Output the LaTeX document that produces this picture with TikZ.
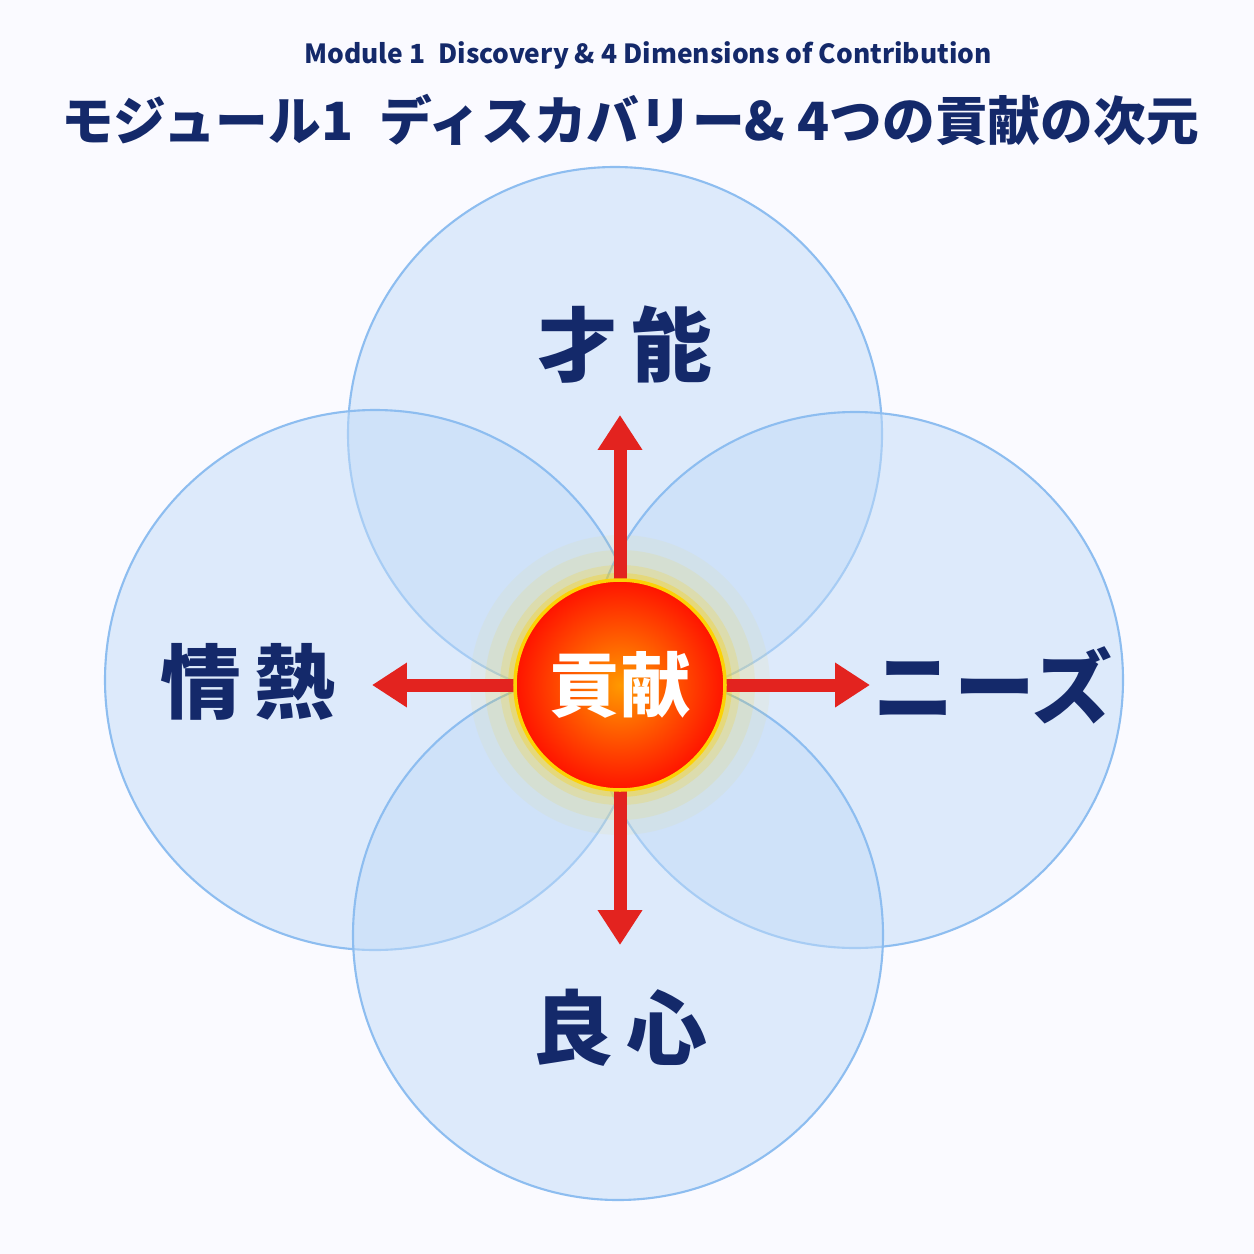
\documentclass[tikz,border=0pt]{standalone}
\usepackage{fontspec}
\setmainfont{Noto Sans CJK JP}
\newcommand\jpbold{\bfseries}
\usetikzlibrary{arrows.meta}
\definecolor{navy}{HTML}{14296A}
\definecolor{ringblue}{HTML}{8DBDF0}
\definecolor{fillblue}{HTML}{C2DCF8}
\definecolor{arrowred}{HTML}{E3231F}
\tikzstyle{petal} = [draw=ringblue, line width=1.2pt, fill=fillblue, fill opacity=0.5]
\tikzstyle{dim} = [text=navy, font=\jpbold\fontsize{46}{50}\selectfont]
\tikzstyle{arrow} = [draw=arrowred, line width=0.26cm, -{Triangle[width=0.85cm,length=0.7cm]}]
\begin{document}
\begin{tikzpicture}[x=0.02cm, y=-0.02cm]
    \useasboundingbox (0,0) rectangle (1254,1254);
    \fill[white!98!blue] (0,0) rectangle (1254,1254);
    % the four overlapping circles
    \draw[petal] (615,434) circle (267);
    \draw[petal] (375,680) circle (270);
    \draw[petal] (855,680) circle (268);
    \draw[petal] (618,935) circle (265);

    \node (core) [circle, minimum size=4.2cm, inner sep=0pt] at (620,685) {};
    \foreach \r/\o in {150/0.06, 135/0.1, 120/0.18, 112/0.3}
        \fill[yellow!70!orange, opacity=\o] (core.center) circle (\r);
    \coordinate (up) at (620,415);
    \coordinate (down) at (620,945);
    \coordinate (left) at (372,685);
    \coordinate (right) at (870,685);
    \draw [arrow] (core.north) -- (up);
    \draw [arrow] (core.south) -- (down);
    \draw [arrow] (core.west) -- (left);
    \draw [arrow] (core.east) -- (right);
    \shade[inner color=orange!80!yellow, outer color=red!85!orange, draw=yellow!70!orange, line width=2pt] (core.center) circle (105);
    \node [text=white, font=\jpbold\fontsize{40}{44}\selectfont] at (core.center) {貢献};

    \node (talent) [dim] at (625,345) {才\,能};
    \node (passion) [dim] at (248,682) {情\,熱};
    \node (needs) [dim] at (993,685) {ニーズ};
    \node (conscience) [dim] at (620,1028) {良\,心};

    \node (entitle) [text=navy, font=\bfseries\fontsize{15}{18}\selectfont] at (648,55) {Module 1\enspace Discovery \& 4 Dimensions of Contribution};
    \node (jptitle) [text=navy, font=\jpbold\fontsize{30}{34}\selectfont] at (630,120) {モジュール1\enspace ディスカバリー\& 4つの貢献の次元};
  \end{tikzpicture}
\end{document}
